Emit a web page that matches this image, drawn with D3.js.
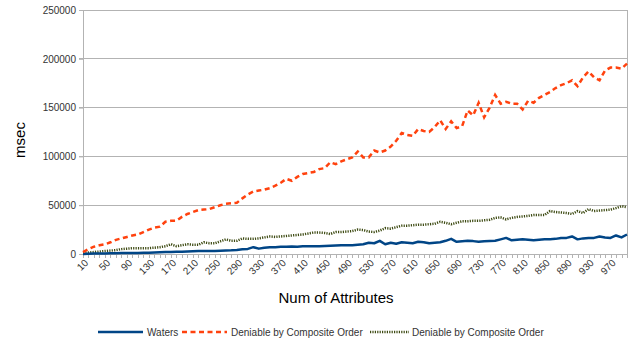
<!DOCTYPE html>
<html><head><meta charset="utf-8">
<script src="https://cdn.jsdelivr.net/npm/d3@7"></script>
<style>body{margin:0;background:#fff}svg{display:block}text{font-family:"Liberation Sans",Arial,sans-serif}</style>
</head><body><svg id="c" width="637" height="344"></svg>
<script>
const categories = d3.range(10, 1001, 10);
const yTicks = [0, 50000, 100000, 150000, 200000, 250000];
const seriesNames = ["Waters", "Deniable by Composite Order", "Deniable by Composite Order"];
const waters = [0,200,400,500,600,700,800,900,1000,1000,
  1100,1200,1400,1600,1800,2000,2100,2200,2400,2600,
  2800,3000,3000,3100,3200,3400,3600,3800,4200,4800,
  5200,7000,5500,6500,7000,7000,7500,7500,7800,7500,
  8000,8000,8000,8000,8200,8500,8800,9000,9000,9000,
  9500,10000,11500,11000,13500,10000,11500,10500,12000,11500,
  11000,12500,12000,11000,11500,12000,13500,15500,12500,13000,
  13500,13200,12500,13000,13200,13500,15000,16500,14000,14500,
  15000,14500,14000,14500,15000,15200,15500,16500,16500,18000,
  15000,16000,16500,16500,18000,17000,16500,19000,17000,20000];
const deniable = [2000,5000,7500,9000,10000,12000,14500,16000,17500,19000,20000,22500,25000,27000,28000,33000,34000,34000,38000,41000,43000,45000,45500,46000,48000,50000,51500,52000,52500,57000,61000,64000,65000,66000,67500,70000,73000,77000,75000,79000,82000,83000,84000,87000,88000,94000,92000,95000,97000,99000,105000,99000,99000,106000,104000,106000,110000,116000,124000,122000,121000,128000,126000,125000,130000,137000,128000,136000,129000,131000,147000,142000,155000,140000,150000,163000,154000,156000,154000,154000,148000,157000,155000,160000,163000,166000,170000,173000,175000,178000,172000,181000,187000,181000,178000,188000,191000,191000,190000,195000];
const composite = [1000,1500,2000,2500,3000,3500,4000,5000,5500,6000,6000,6000,6000,6500,7000,8000,10000,8000,9000,10000,9500,9500,12000,11000,11000,13000,15000,13500,13500,16000,15500,15500,16000,17000,18000,17500,18000,18500,19000,19500,20000,21000,22000,22000,21500,20500,22500,22500,23000,23500,25000,24500,23000,22500,24000,26500,26000,27500,29000,29000,29500,30000,30000,30500,31000,33000,32000,30500,32000,33500,33500,34000,34000,34500,35000,37000,37500,35500,37000,38000,38500,39000,40000,40000,40000,44000,43000,42500,42000,41000,44000,42000,46000,44000,44500,45000,45500,47000,49000,48000];

const svg = d3.select("#c");
const L = 83, R = 627, T = 10, B = 254;
const x = d3.scalePoint().domain(categories).range([L, R]);
const y = d3.scaleLinear().domain([0, 250000]).range([B, T]);
const grid = "#b3b3b3";

svg.append("g").selectAll("line").data(yTicks).join("line")
  .attr("x1", L - 4).attr("x2", R).attr("y1", d => y(d)).attr("y2", d => y(d))
  .attr("stroke", grid).attr("stroke-width", 1).attr("shape-rendering", "crispEdges");
svg.append("line").attr("x1", R).attr("x2", R).attr("y1", T).attr("y2", B)
  .attr("stroke", grid).attr("shape-rendering", "crispEdges");

const ya = svg.append("g").attr("transform", `translate(${L},0)`)
  .call(d3.axisLeft(y).tickValues(yTicks).tickFormat(d3.format("d")).tickSize(4).tickPadding(3));
ya.select(".domain").attr("stroke", grid).attr("shape-rendering", "crispEdges");
ya.selectAll(".tick line").attr("stroke", grid);
ya.selectAll("text").attr("font-size", 10).attr("fill", "#333");

const xa = svg.append("g").attr("transform", `translate(0,${B})`)
  .call(d3.axisBottom(x).tickSizeOuter(0).tickSize(4).tickFormat(d => ((d - 10) % 40 === 0 && d < 1000) ? d : ""));
xa.select(".domain").attr("stroke", grid).attr("shape-rendering", "crispEdges");
xa.selectAll(".tick line").attr("stroke", grid).attr("shape-rendering", "crispEdges");
xa.selectAll("text").attr("font-size", 10).attr("fill", "#333")
  .attr("text-anchor", "end").attr("dy", null).attr("y", 0)
  .attr("transform", "translate(3,7) rotate(-45)").attr("dominant-baseline", "central");

const line = vals => d3.line().x((d, i) => x(categories[i])).y(d => y(d))(vals);
svg.append("path").attr("d", line(composite)).attr("fill", "none")
  .attr("stroke", "#3d4a12").attr("stroke-width", 2.5).attr("stroke-dasharray", "1.2,1.2");
svg.append("path").attr("d", line(waters)).attr("fill", "none")
  .attr("stroke", "#004586").attr("stroke-width", 2.5).attr("stroke-linejoin", "round");
svg.append("path").attr("d", line(deniable)).attr("fill", "none")
  .attr("stroke", "#ff420e").attr("stroke-width", 2.5).attr("stroke-dasharray", "5,3.5");

svg.append("text").attr("transform", "translate(25,140) rotate(-90)").attr("text-anchor", "middle")
  .attr("font-size", 15).attr("fill", "#000").text("msec");
svg.append("text").attr("x", 336).attr("y", 303).attr("text-anchor", "middle")
  .attr("font-size", 15).attr("fill", "#000").text("Num of Attributes");

const leg = [
  {x1: 98, x2: 143, tx: 147, color: "#004586", dash: null},
  {x1: 182, x2: 227, tx: 231, color: "#ff420e", dash: "5,3.5"},
  {x1: 370, x2: 409, tx: 412, color: "#3d4a12", dash: "1.2,1.2"}
];
const lg = svg.append("g").selectAll("g").data(leg).join("g");
lg.append("line").attr("x1", d => d.x1).attr("x2", d => d.x2).attr("y1", 332).attr("y2", 332)
  .attr("stroke", d => d.color).attr("stroke-width", 2.5).attr("stroke-dasharray", d => d.dash);
lg.append("text").attr("x", d => d.tx).attr("y", 332).attr("dy", "0.35em")
  .attr("font-size", 10).attr("fill", "#333").text((d, i) => seriesNames[i]);
</script></body></html>
